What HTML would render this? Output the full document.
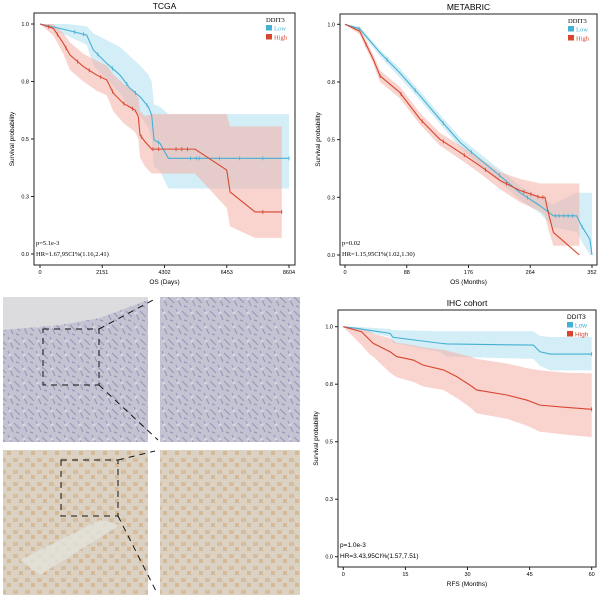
<!DOCTYPE html>
<html><head><meta charset="utf-8">
<style>
body{margin:0;background:#fff;width:600px;height:595px;overflow:hidden;position:relative}
svg{position:absolute;left:0;top:0}
</style></head>
<body>
<svg id="fig" width="600" height="595" viewBox="0 0 600 595">
<defs>
<pattern id="purp" width="14" height="14" patternUnits="userSpaceOnUse"><rect width="14" height="14" fill="#c4c3d2"/><path d="M0 3 L6 9 M8 1 L13 12 M2 12 L5 13" stroke="#7d7cac" stroke-width="1.2" opacity="0.6"/><circle cx="10" cy="5" r="1.5" fill="#d8d6de"/></pattern>
<pattern id="brown" width="12" height="12" patternUnits="userSpaceOnUse"><rect width="12" height="12" fill="#dcd2c4"/><rect x="1" y="2" width="5" height="4" fill="#d5b894" opacity="0.8"/><rect x="7" y="7" width="4" height="4" fill="#d3b48e" opacity="0.8"/></pattern>
</defs>
<g>
<rect x="3" y="297" width="145" height="145" fill="url(#purp)"/>
<path d="M3 297 H148 V300 L100 318 L60 325 L3 330 Z" fill="#dcdcde"/>
<rect x="160" y="297" width="140" height="145" fill="url(#purp)"/>
<rect x="3" y="450" width="145" height="145" fill="url(#brown)"/>
<path d="M20 560 L100 520 L120 525 L40 575 Z" fill="#e4e2dc" opacity="0.8"/>
<rect x="160" y="450" width="140" height="145" fill="url(#brown)"/>
<g stroke="#111" stroke-width="1" stroke-dasharray="6,5" fill="none">
<rect x="43" y="329" width="56" height="56"/>
<line x1="99" y1="329" x2="155" y2="299"/><line x1="99" y1="385" x2="158" y2="440"/>
<rect x="61" y="460" width="57" height="56"/>
<line x1="118" y1="460" x2="155" y2="451"/><line x1="118" y1="516" x2="157" y2="593"/>
</g>
</g>
</svg>
<script>
const tcgaLowT=[0,922,1613,1843,2304,2765,3110,3456,3744,3859,3940,4148,4436,8604];
const tcgaLowS=[1,0.974,0.952,0.887,0.829,0.778,0.72,0.684,0.64,0.604,0.496,0.481,0.416,0.416];
const tcgaLowU=[1,1,0.99,0.96,0.93,0.9,0.86,0.82,0.78,0.75,0.65,0.64,0.608,0.608];
const tcgaLowL=[1,0.95,0.91,0.82,0.76,0.7,0.63,0.6,0.55,0.5,0.38,0.36,0.285,0.285];
const tcgaLowC=[1200,1500,2000,2500,3000,3300,3700,4100,5200,5400,5500,6200,6900,7700,8604];
const tcgaHighT=[0,461,807,1037,1498,1959,2304,2535,2880,3283,3398,3456,3629,3859,5357,6453,6568,7432,8354];
const tcgaHighS=[1,0.981,0.916,0.865,0.815,0.778,0.757,0.699,0.655,0.626,0.597,0.517,0.488,0.456,0.456,0.365,0.27,0.183,0.183];
const tcgaHighU=[1,1,0.96,0.92,0.87,0.84,0.82,0.78,0.74,0.71,0.68,0.62,0.6,0.608,0.608,0.608,0.555,0.555,0.555];
const tcgaHighL=[1,0.95,0.87,0.8,0.75,0.71,0.69,0.62,0.57,0.53,0.5,0.42,0.38,0.35,0.35,0.2,0.12,0.07,0.07];
const tcgaHighC=[300,600,900,1300,1700,2100,2500,2900,3200,3500,3900,4100,4700,4900,5100,7700,8354];
const metLowT=[0,21,50,78,107,135,164,192,221,249,278,297,330,337,349,352];
const metLowS=[1,0.98,0.877,0.79,0.69,0.589,0.488,0.415,0.343,0.271,0.213,0.17,0.17,0.127,0.068,0];
const metLowU=[1,0.99,0.89,0.81,0.71,0.61,0.51,0.44,0.37,0.3,0.25,0.22,0.27,0.27,0.27,0.27];
const metLowL=[1,0.97,0.86,0.77,0.67,0.57,0.466,0.39,0.316,0.24,0.18,0.12,0.1,0.06,0,0];
const metLowC=[20,60,100,140,180,220,260,290,300,305,312,318,324,338];
const metHighT=[0,21,40,50,78,107,135,164,192,221,249,278,285,289,297,334];
const metHighS=[1,0.97,0.85,0.776,0.705,0.589,0.502,0.445,0.387,0.323,0.28,0.25,0.25,0.192,0.098,0];
const metHighU=[1,0.985,0.87,0.8,0.73,0.615,0.53,0.475,0.42,0.36,0.33,0.31,0.31,0.31,0.31,0.31];
const metHighL=[1,0.955,0.83,0.75,0.68,0.565,0.475,0.415,0.355,0.285,0.23,0.19,0.17,0.12,0.04,0.04];
const metHighC=[30,50,80,110,140,170,200,230,255,265,275,282];
const ihcLowT=[0,3.2,11.3,12,23.4,25,45.9,47.5,50,60];
const ihcLowS=[1,0.993,0.971,0.954,0.928,0.925,0.92,0.891,0.881,0.881];
const ihcLowU=[1,1,0.99,0.985,0.98,0.98,0.98,0.96,0.955,0.955];
const ihcLowL=[1,0.985,0.956,0.93,0.89,0.87,0.86,0.83,0.81,0.81];
const ihcLowC=[60];
const ihcHighT=[0,4.4,6.4,7.2,11.3,12.9,16.9,19.3,24.2,27.4,30.6,32.2,39.5,44.3,47.5,54,60];
const ihcHighS=[1,0.978,0.942,0.928,0.891,0.87,0.855,0.833,0.812,0.783,0.746,0.725,0.703,0.681,0.659,0.649,0.641];
const ihcHighU=[1,0.99,0.98,0.97,0.95,0.93,0.92,0.91,0.9,0.885,0.87,0.86,0.84,0.82,0.81,0.8,0.797];
const ihcHighL=[1,0.92,0.88,0.87,0.8,0.78,0.76,0.74,0.725,0.69,0.65,0.623,0.6,0.57,0.543,0.53,0.52];
const ihcHighC=[60];
const tcgaTicks=[0,2151,4302,6453,8604];
const metTicks=[0,88,176,264,352];
const ihcTicks=[0,15,30,45,60];
const yTickVals=[0,0.25,0.5,0.75,1];
const yTickLabels=['0.0','0.3','0.5','0.8','1.0'];

const NS='http://www.w3.org/2000/svg';
const svg=document.getElementById('fig');
const BLUE='#45b0d3',RED='#d8462f',BLUEF='#aee0f0',REDF='#f4aea6';
function mk(tag,attrs,parent){const e=document.createElementNS(NS,tag);for(const k in attrs)e.setAttribute(k,attrs[k]);(parent||svg).appendChild(e);return e;}
function linePath(T,S,sx,sy){let d='M'+sx(T[0])+' '+sy(S[0]);for(let i=1;i<T.length;i++){d+=' L'+sx(T[i])+' '+sy(S[i]);}return d;}
function bandPath(T,U,L,sx,sy){let d='M'+sx(T[0])+' '+sy(U[0]);for(let i=1;i<T.length;i++){d+=' L'+sx(T[i])+' '+sy(U[i]);}
 for(let i=T.length-1;i>=0;i--){d+=' L'+sx(T[i])+' '+sy(L[i]);}d+=' Z';return d;}
function valAt(T,S,t){for(let i=1;i<T.length;i++){if(t<=T[i]){const f=(t-T[i-1])/(T[i]-T[i-1]||1);return S[i-1]+f*(S[i]-S[i-1]);}}return S[S.length-1];}
function panel(cfg){
 const g=mk('g',{});
 const sx=t=>cfg.x0+(t-cfg.xmin)/(cfg.xmax-cfg.xmin)*(cfg.x1-cfg.x0);
 const sy=v=>cfg.y0+(1-v)*(cfg.y1-cfg.y0);
 const t=mk('text',{x:(cfg.bl+cfg.br)/2,y:cfg.bt-4,'text-anchor':'middle','font-size':'8.5','font-family':'Liberation Sans, sans-serif'},g);t.textContent=cfg.title;
 
 cfg.groups.forEach(gr=>{const b=mk('path',{d:bandPath(gr.T,gr.U,gr.L,sx,sy),fill:gr.f,opacity:'0.55'},g);
  });
 cfg.groups.forEach(gr=>{const l=mk('path',{d:linePath(gr.T,gr.S,sx,sy),fill:'none',stroke:gr.c,'stroke-width':'1.1'},g);
  
  gr.C.forEach(ct=>{const v=valAt(gr.T,gr.S,ct);const m=mk('line',{x1:sx(ct),x2:sx(ct),y1:sy(v)-2,y2:sy(v)+2,stroke:gr.c,'stroke-width':'0.8'},g);
   });});
 const fr=mk('rect',{x:cfg.bl,y:cfg.bt,width:cfg.br-cfg.bl,height:cfg.bb-cfg.bt,fill:'none',stroke:'#222','stroke-width':'1'},g);
 
 yTickVals.forEach((v,i)=>{mk('line',{x1:cfg.bl-3,x2:cfg.bl,y1:sy(v),y2:sy(v),stroke:'#222'},g);
  const tl=mk('text',{x:cfg.bl-5,y:sy(v)+2,'text-anchor':'end','font-size':'5.5','font-family':'Liberation Sans, sans-serif'},g);tl.textContent=yTickLabels[i];
  });
 cfg.xt.forEach(v=>{mk('line',{x1:sx(v),x2:sx(v),y1:cfg.bb,y2:cfg.bb+3,stroke:'#222'},g);
  const tl=mk('text',{x:sx(v),y:cfg.bb+9,'text-anchor':'middle','font-size':'5.5','font-family':'Liberation Sans, sans-serif'},g);tl.textContent=v;
  });
 const xt=mk('text',{x:(cfg.bl+cfg.br)/2,y:cfg.bb+19,'text-anchor':'middle','font-size':'6.5','font-family':'Liberation Sans, sans-serif'},g);xt.textContent=cfg.xlabel;
 
 const yc=(cfg.bt+cfg.bb)/2;const yt=mk('text',{x:cfg.bl-20,y:yc,'text-anchor':'middle','font-size':'6.5','font-family':'Liberation Sans, sans-serif',transform:'rotate(-90 '+(cfg.bl-20)+' '+yc+')'},g);yt.textContent='Survival probability';
 
 const ff=cfg.serif?'Liberation Serif, serif':'Liberation Sans, sans-serif';
 const p=mk('text',{x:cfg.bl+2,y:cfg.bb-20,'font-size':'6.5','font-family':ff},g);p.textContent=cfg.p;
 
 const h=mk('text',{x:cfg.bl+2,y:cfg.bb-9,'font-size':'6.5','font-family':ff},g);h.textContent=cfg.hr;
 
 const lg=mk('g',{},g);
 const lx=cfg.br-29,ly=cfg.bt+9;
 const lt=mk('text',{x:lx,y:ly,'font-size':'6.5','font-family':ff},lg);lt.textContent='DDIT3';
 [['Low',BLUE],['High',RED]].forEach((e,i)=>{const r=mk('rect',{x:lx,y:ly+3+i*9,width:6,height:5.5,fill:e[1]},lg);
  
  const tx=mk('text',{x:lx+8,y:ly+8.5+i*9,'font-size':'6.5','font-family':ff,fill:e[1]},lg);tx.textContent=e[0];
  });
}
panel({name:'tcga-km-chart',title:'TCGA',xlabel:'OS (Days)',serif:true,bl:34,br:295,bt:13,bb:265,x0:40,x1:289,y0:24,y1:254,xmin:0,xmax:8604,xt:tcgaTicks,
 p:'p=5.1e-3',hr:'HR=1.67,95CI%(1.16,2.41)',
 groups:[{id:'low',T:tcgaLowT,S:tcgaLowS,U:tcgaLowU,L:tcgaLowL,C:tcgaLowC,c:BLUE,f:BLUEF},{id:'high',T:tcgaHighT,S:tcgaHighS,U:tcgaHighU,L:tcgaHighL,C:tcgaHighC,c:RED,f:REDF}]});
panel({name:'metabric-km-chart',title:'METABRIC',xlabel:'OS (Months)',serif:true,bl:340,br:597,bt:14,bb:265,x0:345,x1:592,y0:24.3,y1:255,xmin:0,xmax:352,xt:metTicks,
 p:'p=0.02',hr:'HR=1.15,95CI%(1.02,1.30)',
 groups:[{id:'low',T:metLowT,S:metLowS,U:metLowU,L:metLowL,C:metLowC,c:BLUE,f:BLUEF},{id:'high',T:metHighT,S:metHighS,U:metHighU,L:metHighL,C:metHighC,c:RED,f:REDF}]});
panel({name:'ihc-km-chart',title:'IHC cohort',xlabel:'RFS (Months)',serif:false,bl:338,br:596,bt:310,bb:567,x0:343.3,x1:591.7,y0:326.7,y1:556.7,xmin:0,xmax:60,xt:ihcTicks,
 p:'p=1.0e-3',hr:'HR=3.43,95CI%(1.57,7.51)',
 groups:[{id:'low',T:ihcLowT,S:ihcLowS,U:ihcLowU,L:ihcLowL,C:ihcLowC,c:BLUE,f:BLUEF},{id:'high',T:ihcHighT,S:ihcHighS,U:ihcHighU,L:ihcHighL,C:ihcHighC,c:RED,f:REDF}]});
</script>
</body></html>
